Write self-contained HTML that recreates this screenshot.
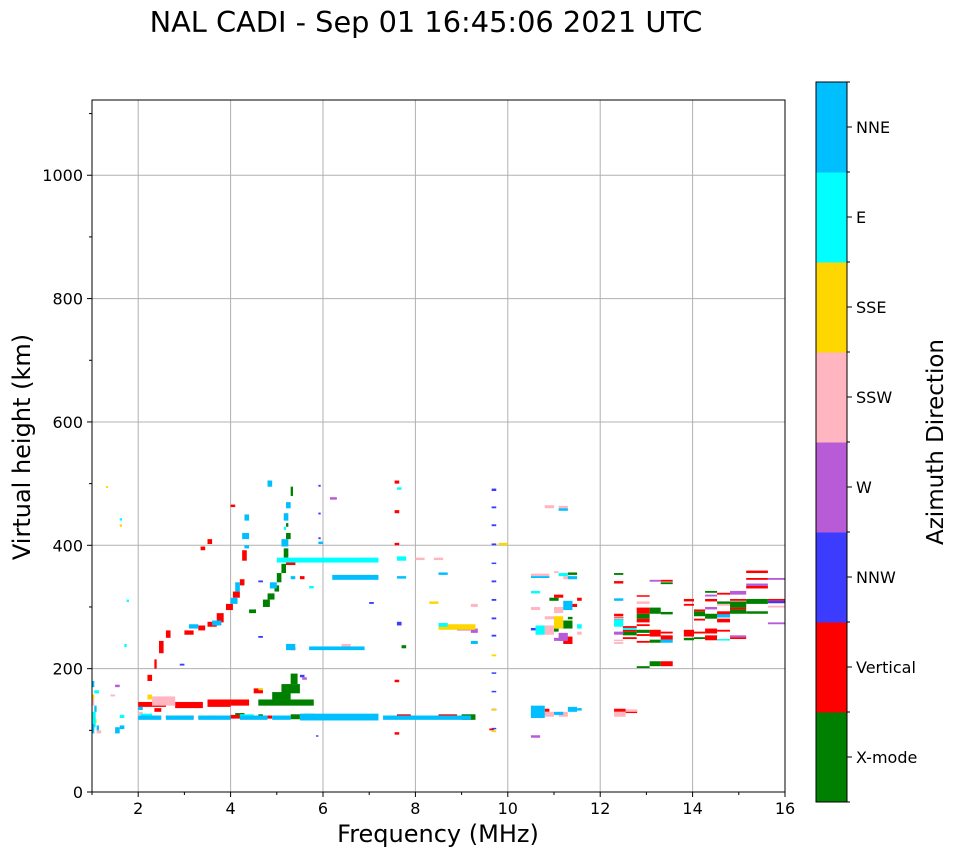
<!DOCTYPE html>
<html><head><meta charset="utf-8"><style>
body{margin:0;background:#fff;font-family:"DejaVu Sans",sans-serif}
svg text{font-family:"DejaVu Sans",sans-serif}
</style></head><body>
<svg id="chart" width="958" height="857" xmlns="http://www.w3.org/2000/svg">
<rect width="958" height="857" fill="#fff"/>
<text x="426" y="32" font-size="28.8" text-anchor="middle">NAL CADI - Sep 01 16:45:06 2021 UTC</text>
<g id="grid"></g>
<g id="marks"></g>
<rect x="92" y="100" width="693" height="692" fill="none" stroke="#000" stroke-width="1"/>
<g id="axes"></g>
<text x="438" y="842" font-size="24" text-anchor="middle">Frequency (MHz)</text>
<text x="30" y="447" font-size="24" text-anchor="middle" transform="rotate(-90 30 447)">Virtual height (km)</text>
<g id="cbar"></g>
<text x="943" y="442" font-size="23" text-anchor="middle" transform="rotate(-90 943 442)">Azimuth Direction</text>
</svg>
<script>
const xTicks=[2,4,6,8,10,12,14,16];
const yTicks=[0,200,400,600,800,1000];
const directions=["X-mode","Vertical","NNW","W","SSW","SSE","E","NNE"];
const dirColors=["#008000","#ff0000","#3c3cff","#b85bd6","#ffb6c1","#ffd700","#00ffff","#00bfff"];
const xmode=[[4.1,4.3,120,128],[5.3,5.5,118,126],[9.0,9.3,117,126],[4.6,4.7,119,126],[6.9,7.0,120,126],
[4.6,5.8,140,150],[4.9,5.3,150,162],[5.1,5.5,160,175],[5.3,5.45,175,192],[4.2,4.3,143,148],
[4.7,4.85,300,312],[4.8,4.95,312,322],[4.95,5.05,325,335],[5.0,5.1,340,355],[5.1,5.2,355,370],[5.15,5.25,380,395],[5.2,5.3,410,420],[5.3,5.35,480,495],[4.4,4.55,290,296],[4.8,4.85,500,505],[5.2,5.25,430,436],[5.3,5.4,368,374],[7.7,7.8,233,238],
[10.9,11.1,310,315],[11.2,11.4,265,278],[11.0,11.1,260,265],[11.3,11.5,352,356],[11.3,11.4,280,284],
[12.3,12.5,352,355],[12.79,13.07,281,289],[12.79,13.07,258,263],[12.79,13.07,201,204],[13.07,13.31,289,299],[13.07,13.31,242,247],[13.07,13.31,204,212],[13.31,13.57,337,340],[13.31,13.57,288,292],[12.49,12.79,254,260],[13.81,14.03,246,250],[14.03,14.27,285,293],[14.03,14.27,248,251],[14.27,14.53,323,326],[14.27,14.53,281,289],[14.53,14.81,305,309],[14.81,15.16,299,309],[14.81,15.16,289,296],[15.16,15.63,305,313],[15.16,15.63,289,293]];
const vertical=[[2.2,2.4,118,124],[2.9,3.2,118,124],[3.5,3.7,118,124],[4.0,4.2,119,125],[5.9,6.0,120,126],[7.6,7.9,118,126],[8.5,8.9,118,126],[2.6,2.7,118,124],[4.8,4.9,119,124],
[2.0,2.6,138,146],[2.8,3.4,136,146],[3.5,4.0,138,150],[4.0,4.4,140,150],[4.5,4.7,160,168],[2.35,2.5,130,136],
[2.2,2.3,180,190],[2.35,2.4,200,215],[2.45,2.55,225,245],[2.6,2.7,250,262],[3.0,3.2,255,262],[3.3,3.45,262,270],[3.5,3.7,268,276],[3.7,3.85,275,290],[3.9,4.05,295,305],[4.05,4.2,315,325],[4.2,4.3,335,345],[4.25,4.35,375,392],[4.0,4.1,462,466],[3.5,3.6,402,410],[3.35,3.45,392,398],[5.3,5.4,230,235],[5.2,5.4,368,376],[5.5,5.6,345,350],
[7.55,7.65,500,505],[7.55,7.65,452,457],[7.55,7.65,400,404],[7.55,7.65,178,182],[7.55,7.65,93,97],[9.6,9.7,100,103],
[11.0,11.2,315,320],[11.4,11.5,300,305],[11.2,11.4,240,252],[11.5,11.6,310,315],[10.8,11.0,125,128],[10.8,10.9,130,135],
[12.3,12.55,130,135],[12.55,12.8,128,132],
[12.3,12.5,338,342],[12.3,12.5,285,289],[12.3,12.5,278,284],[12.79,13.07,289,299],[12.79,13.07,275,281],[12.79,13.07,269,272],[12.79,13.07,253,256],[12.79,13.07,242,245],[12.79,13.07,317,319],[13.07,13.31,252,263],[13.31,13.57,204,212],[13.31,13.57,341,344],[13.31,13.57,257,260],[13.31,13.57,247,254],[12.49,12.79,266,269],[12.49,12.79,260,263],[12.49,12.79,248,251],[13.81,14.03,309,313],[13.81,14.03,302,305],[13.81,14.03,252,263],[14.03,14.27,293,296],[14.03,14.27,278,281],[14.03,14.27,257,260],[14.27,14.53,309,313],[14.27,14.53,257,265],[14.27,14.53,246,254],[14.53,14.81,320,323],[14.53,14.81,288,293],[14.53,14.81,275,281],[14.53,14.81,260,263],[14.81,15.16,310,313],[14.81,15.16,296,299],[14.81,15.16,248,251],[15.16,15.63,355,359],[15.16,15.63,344,347],[15.16,15.63,330,334],[15.63,16,310,313]];
const nnw=[[9.65,9.75,488,492],[9.65,9.75,460,463],[9.65,9.75,431,434],[9.65,9.75,400,403],[9.65,9.75,370,372],[9.65,9.75,340,343],[9.65,9.75,310,313],[9.65,9.75,280,283],[9.65,9.75,252,255],[9.65,9.75,192,194],[9.65,9.75,162,164],[9.65,9.75,132,135],[9.65,9.75,102,104],[5.9,5.95,495,498],[5.9,5.95,450,453],[5.9,5.95,410,413],[4.6,4.7,340,343],[4.6,4.7,250,253],[7.0,7.1,305,308],[7.6,7.7,270,276],[5.85,5.9,90,92],[5.5,5.6,186,190],[2.9,3.0,205,208],[10.5,10.6,262,266],[15.63,16,306,310],[14.53,14.81,283,288]];
const west=[[6.15,6.3,474,478],[5.55,5.65,182,186],[1.5,1.6,170,174],[9.2,9.35,258,265],[10.5,10.7,88,92],[11.1,11.3,245,258],[11.0,11.2,245,250],[12.3,12.5,255,260],[13.07,13.31,341,344],[14.27,14.53,317,320],[14.27,14.53,296,300],[14.81,15.16,320,326],[14.81,15.16,251,254],[15.16,15.63,334,338],[15.63,16,344,347],[15.63,16,272,275],[8.9,9.2,262,266]];
const ssw=[[2.3,2.8,140,155],[2.0,2.1,125,130],[6.4,6.6,235,240],[8.0,8.2,376,380],[8.4,8.6,376,380],[9.2,9.35,300,305],[6.8,7.0,375,380],[1.0,1.05,140,150],[1.1,1.2,95,100],[1.4,1.5,155,158],
[10.5,10.9,350,354],[11.2,11.4,345,350],[10.8,11.0,460,465],[11.1,11.3,460,464],[10.5,10.7,295,300],[11.0,11.2,290,300],[10.8,11.0,280,285],[10.8,11.0,255,270],[11.5,11.6,255,260],[10.8,11.0,122,130],[11.1,11.3,122,130],[12.3,12.55,122,130],[12.55,12.8,130,134],[12.3,12.5,280,283],[12.3,12.5,245,247],[12.3,12.5,240,243],[12.79,13.07,305,309],[14.53,14.81,302,305],[15.63,16,299,302],[11.0,11.1,355,358]];
const sse=[[2.2,2.3,150,158],[1.3,1.35,493,496],[1.6,1.65,430,434],[8.5,9.3,263,272],[8.3,8.5,305,309],[9.8,10.0,400,404],[9.65,9.75,220,223],[9.65,9.75,132,135],[9.65,9.75,97,100],[11.0,11.2,265,285],[1.0,1.05,150,158],[1.05,1.1,112,118],[4.6,4.7,165,168]];
const eastC=[[5.0,5.6,372,380],[5.6,7.2,372,380],[7.6,7.8,375,382],[8.5,8.7,268,274],[10.5,10.7,322,326],[10.6,10.8,255,270],[11.5,11.6,265,272],[11.1,11.3,350,355],[1.6,1.65,440,444],[1.0,1.08,105,130],[1.05,1.15,160,165],[1.6,1.7,120,125],[1.75,1.8,308,312],[1.7,1.75,235,240],[7.6,7.7,490,494],[5.15,5.2,425,430],[5.7,5.8,330,334],[12.3,12.5,268,280],[12.49,12.79,263,266],[14.53,14.81,246,248],[2.05,2.3,123,127],[4.2,4.5,122,126],[6.7,6.9,120,124]];
const nne=[[2.0,2.5,117,124],[2.6,3.2,117,124],[3.3,4.0,117,124],[4.2,4.8,117,124],[4.9,5.3,117,124],[5.5,7.2,116,127],[7.3,9.2,117,124],[5.6,5.8,124,127],
[3.1,3.3,265,272],[3.6,3.8,270,278],[4.0,4.15,305,315],[4.1,4.2,325,340],[4.3,4.4,440,450],[4.25,4.4,410,420],[4.3,4.4,395,400],[4.85,5.0,330,340],[5.1,5.25,398,410],[5.15,5.25,440,452],[5.2,5.3,460,470],[4.8,4.9,495,505],[5.3,5.4,345,350],[6.2,7.2,344,352],[5.7,6.9,230,236],[5.2,5.4,230,240],[7.6,7.8,346,350],[8.5,8.7,352,356],[9.2,9.35,240,245],
[10.5,10.9,347,350],[11.3,11.5,345,350],[11.2,11.4,295,310],[11.1,11.3,456,460],[10.5,10.8,120,140],[11.0,11.2,125,130],[11.3,11.5,130,138],[11.5,11.6,132,136],[12.3,12.5,310,314],[13.31,13.57,242,247],[14.53,14.81,283,288],
[1.0,1.05,95,110],[1.05,1.1,130,140],[1.1,1.15,100,108],[1.5,1.6,95,105],[1.6,1.7,102,108],[1.0,1.05,170,180],[2.0,2.1,133,138],[5.9,6.0,402,406]];
const series=[xmode,vertical,nnw,west,ssw,sse,eastC,nne];

const NS="http://www.w3.org/2000/svg";
const X0=92,X1=785,Y0=792,Y1=100,FMIN=1,FMAX=16,HMIN=0,HMAX=1122;
const sx=f=>X0+(f-FMIN)/(FMAX-FMIN)*(X1-X0);
const sy=h=>Y0-(h-HMIN)/(HMAX-HMIN)*(Y0-Y1);
function mk(tag,attrs,parent){const e=document.createElementNS(NS,tag);for(const k in attrs)e.setAttribute(k,attrs[k]);parent.appendChild(e);return e;}
const grid=document.getElementById('grid'),axes=document.getElementById('axes'),marks=document.getElementById('marks'),cbar=document.getElementById('cbar');
xTicks.forEach(t=>{const x=sx(t);
 const g=mk('line',{x1:x,x2:x,y1:Y1,y2:Y0,stroke:'#b0b0b0','stroke-width':1},grid);
 
 
 mk('line',{x1:x,x2:x,y1:Y0,y2:Y0+5,stroke:'#000'},axes);
 const tx=mk('text',{x:x,y:Y0+22,'font-size':16,'text-anchor':'middle'},axes);tx.textContent=t;
 
 
});
yTicks.forEach(t=>{const y=sy(t);
 const g=mk('line',{x1:X0,x2:X1,y1:y,y2:y,stroke:'#b0b0b0','stroke-width':1},grid);
 
 
 mk('line',{x1:X0-5,x2:X0,y1:y,y2:y,stroke:'#000'},axes);
 const tx=mk('text',{x:X0-9,y:y+6,'font-size':16,'text-anchor':'end'},axes);tx.textContent=t;
 
 
});
for(let h=100;h<HMAX;h+=200){const y=sy(h);mk('line',{x1:X0-3,x2:X0,y1:y,y2:y,stroke:'#000'},axes);}
for(let f=1;f<16;f+=2){const x=sx(f);mk('line',{x1:x,x2:x,y1:Y0,y2:Y0+3,stroke:'#000'},axes);}
series.forEach((arr,ci)=>{arr.forEach(r=>{
 const x=sx(r[0]),w=Math.max(1.5,sx(r[1])-x),y=sy(r[3]),hh=Math.max(1.5,sy(r[2])-y);
 const e=mk('rect',{x:x,y:y,width:w,height:hh,fill:dirColors[ci]},marks);
 
 
});});
const CB0=802,CB1=82,CX=816,CW=31,n=directions.length,bh=(CB0-CB1)/n;
directions.forEach((d,i)=>{const y=CB0-(i+1)*bh;
 const r=mk('rect',{x:CX,y:y,width:CW,height:bh+0.5,fill:dirColors[i]},cbar);
 
 
 const yc=y+bh/2;
 mk('line',{x1:CX+CW,x2:CX+CW+5,y1:yc,y2:yc,stroke:'#000'},cbar);
 const t=mk('text',{x:CX+CW+9,y:yc+6,'font-size':16},cbar);t.textContent=d;
 
 
});
for(let i=0;i<=n;i++){const y=CB0-i*bh;mk('line',{x1:CX+CW,x2:CX+CW+3,y1:y,y2:y,stroke:'#000'},cbar);}
mk('rect',{x:CX,y:CB1,width:CW,height:CB0-CB1,fill:'none',stroke:'#000'},cbar);
</script>
</body></html>
